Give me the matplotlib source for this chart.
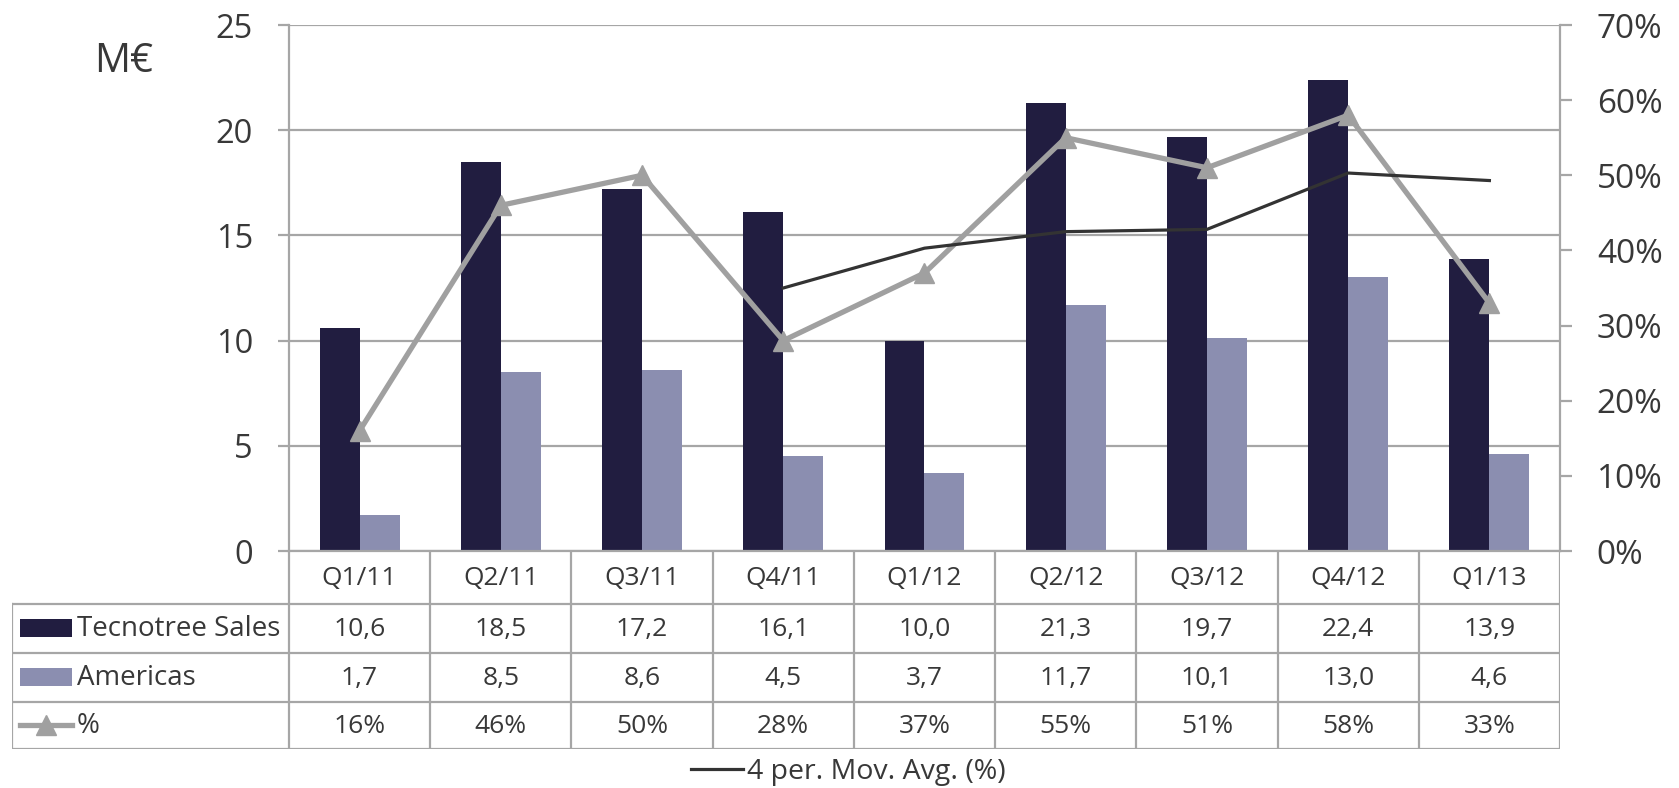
import matplotlib
matplotlib.use("Agg")
import matplotlib.pyplot as plt
from matplotlib.patches import Rectangle
import numpy as np

plt.rcParams['font.family'] = ['Open Sans', 'DejaVu Sans']

quarters = ["Q1/11", "Q2/11", "Q3/11", "Q4/11", "Q1/12", "Q2/12", "Q3/12", "Q4/12", "Q1/13"]
sales = [10.6, 18.5, 17.2, 16.1, 10.0, 21.3, 19.7, 22.4, 13.9]
americas = [1.7, 8.5, 8.6, 4.5, 3.7, 11.7, 10.1, 13.0, 4.6]
pct = [16, 46, 50, 28, 37, 55, 51, 58, 33]
mov_avg = [np.nan, np.nan, np.nan, 35.0, 40.3, 42.5, 42.8, 50.3, 49.3]
left_ticks = [0, 5, 10, 15, 20, 25]
right_ticks = [0, 10, 20, 30, 40, 50, 60, 70]

DARK = "#211d40"
LIGHT = "#8b8eb0"
GRAY = "#a0a0a0"
GRID = "#a6a6a6"
TXT = "#383838"

W, H = 1679, 788
fig = plt.figure(figsize=(W / 100, H / 100), dpi=100)

ax_l, ax_r, ax_t, ax_b = 289, 1560, 25, 551
ax = fig.add_axes([ax_l / W, 1 - ax_b / H, (ax_r - ax_l) / W, (ax_b - ax_t) / H])
x = np.arange(len(quarters))
bw = 0.283
ax.bar(x - bw / 2, sales, bw, color=DARK, zorder=2)
ax.bar(x + bw / 2, americas, bw, color=LIGHT, zorder=2)
ax.set_xlim(-0.5, len(quarters) - 0.5)
ax.set_ylim(0, 25)
ax.set_yticks(left_ticks)
ax.set_yticklabels([str(t) for t in left_ticks])
ax.set_xticks([])
ax.set_axisbelow(True)
ax.yaxis.grid(True, color=GRID, lw=1.6)
for s in ["top", "right"]:
    ax.spines[s].set_visible(False)
for s in ["left", "bottom"]:
    ax.spines[s].set_color(GRID)
    ax.spines[s].set_linewidth(1.6)
ax.tick_params(axis='y', direction='out', length=8, width=1.6, color=GRID,
               labelsize=23.5, labelcolor=TXT, pad=18)

ax2 = ax.twinx()
ax2.set_ylim(0, 70)
ax2.set_yticks(right_ticks)
ax2.set_yticklabels([f"{t}%" for t in right_ticks])
for s in ["top", "left", "bottom"]:
    ax2.spines[s].set_visible(False)
ax2.spines["right"].set_color(GRID)
ax2.spines["right"].set_linewidth(1.6)
ax2.tick_params(axis='y', direction='out', length=8.5, width=1.6, color=GRID,
                labelsize=24, labelcolor=TXT, pad=18)
ax2.plot(x, pct, color=GRAY, lw=3.8, marker='^', markersize=14, zorder=3)
mline, = ax2.plot(x, mov_avg, color="#333333", lw=2.3, zorder=4,
                  label="4 per. Mov. Avg. (%)")

fig.text(124 / W, 1 - 62 / H, "M€", fontsize=29, color=TXT, ha='center', va='center')

# data table
t_left, t_bot = 12, 749
tax = fig.add_axes([t_left / W, 1 - t_bot / H, (ax_r - t_left) / W, (t_bot - ax_b) / H])
px_per = (ax_r - ax_l) / len(quarters)
xl0 = -0.5 - (ax_l - t_left) / px_per
tax.set_xlim(xl0, len(quarters) - 0.5)
tax.set_ylim(t_bot, ax_b)
tax.axis('off')
rows = [551, 604, 653, 702, 749]
lkw = dict(color=GRID, lw=1.6, solid_capstyle='projecting')
for yy in rows[1:]:
    tax.plot([xl0, len(quarters) - 0.5], [yy, yy], **lkw)
tax.plot([xl0, xl0], [rows[1], rows[-1]], **lkw)
for i in range(len(quarters) + 1):
    tax.plot([i - 0.5, i - 0.5], [rows[0], rows[-1]], **lkw)

def px2x(px):
    return xl0 + (px - t_left) / px_per

def rc(i):
    return (rows[i] + rows[i + 1]) / 2

FS = 19
for i, q in enumerate(quarters):
    tax.text(i, rc(0) + 1, q, ha='center', va='center', fontsize=FS, color=TXT)
    tax.text(i, rc(1) + 1, f"{sales[i]:.1f}".replace('.', ','), ha='center', va='center', fontsize=FS, color=TXT)
    tax.text(i, rc(2) + 1, f"{americas[i]:.1f}".replace('.', ','), ha='center', va='center', fontsize=FS, color=TXT)
    tax.text(i, rc(3) + 1, f"{pct[i]}%", ha='center', va='center', fontsize=FS, color=TXT)

labels = ["Tecnotree Sales", "Americas", "%"]
for r, (lab, col) in enumerate(zip(labels, [DARK, LIGHT, None]), start=1):
    cy = rc(r)
    if col is not None:
        tax.add_patch(Rectangle((px2x(20), cy - 9), px2x(72) - px2x(20), 18, color=col, lw=0))
    else:
        tax.plot([px2x(20), px2x(72)], [cy, cy], color=GRAY, lw=3.8)
        tax.plot([px2x(46)], [cy], marker='^', color=GRAY, markersize=14)
    tax.text(px2x(77), cy + 1, lab, ha='left', va='center', fontsize=FS + 1, color=TXT)

fig.legend(handles=[mline], loc='center', bbox_to_anchor=(848 / W, 1 - 772 / H),
           frameon=False, fontsize=20.5, handlelength=1.85, handletextpad=0.12,
           labelcolor=TXT)

fig.savefig("out.png", dpi=100)
